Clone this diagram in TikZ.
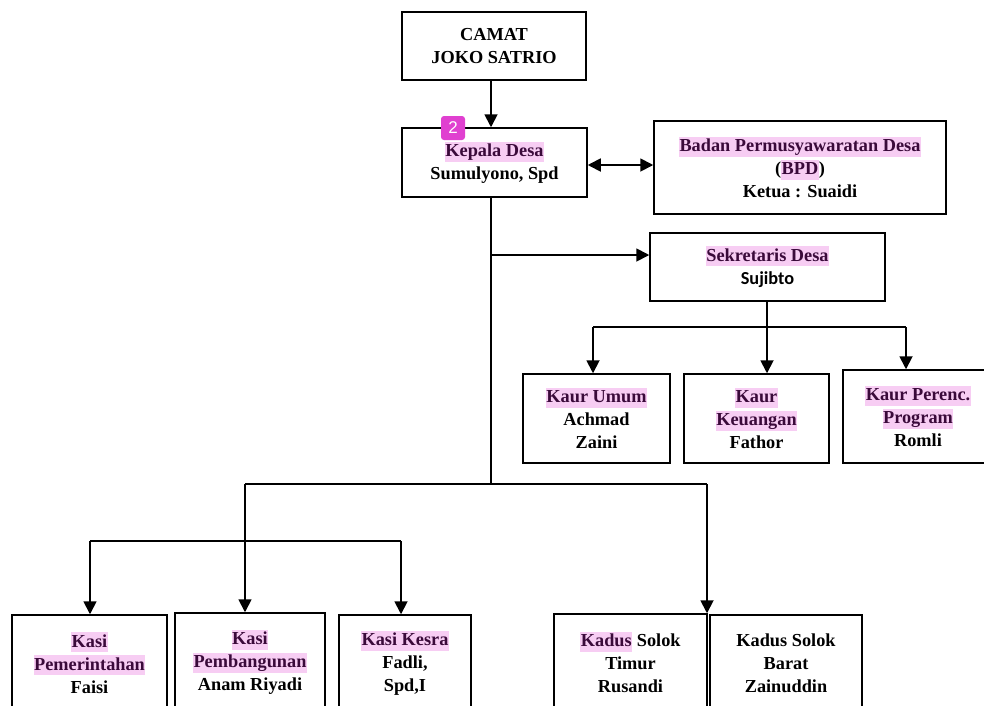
\documentclass[tikz,border=0pt]{standalone}
\usepackage{fontspec}
\setmainfont{Liberation Serif}
\newfontfamily\carlito{Carlito}
\newfontfamily\badgefont{Liberation Sans}
\usetikzlibrary{arrows.meta}
\definecolor{hlpink}{HTML}{F7CDF3}
\definecolor{hltext}{HTML}{3A0A3A}
\definecolor{badgecol}{HTML}{E040D0}
\newcommand{\hlw}[1]{{\setlength{\fboxsep}{0.5pt}\colorbox{hlpink}{\textcolor{hltext}{\rule[-4.5pt]{0pt}{19pt}#1}}}}
\tikzset{
  orgbox/.style={draw, line width=1.5pt, align=center, inner sep=0pt,
    font=\fontsize{18.3}{23}\selectfont\bfseries},
  link/.style={line width=1.8pt},
  arr/.style={line width=1.8pt, -{Triangle[length=13pt,width=13pt]}},
  darr/.style={line width=1.8pt, {Triangle[length=13pt,width=13pt]}-{Triangle[length=13pt,width=13pt]}},
  badge/.style={fill=badgecol, rounded corners=3pt, minimum width=24pt, minimum height=24pt,
    inner sep=0pt, text=white, font=\badgefont\fontsize{17}{17}\selectfont}
}
\begin{document}
\begin{tikzpicture}[x=1pt,y=-1pt]
\clip (0,0) rectangle (984,705);
\fill[white] (0,0) rectangle (984,705);
% boxes
\node[orgbox, minimum width=184pt, minimum height=68pt] (camat) at (494,46) {CAMAT\\JOKO SATRIO};
\node[orgbox, minimum width=185pt, minimum height=69pt] (kepala) at (494.5,162.5) {\hlw{Kepala Desa}\\Sumulyono, Spd};
\node[orgbox, minimum width=292pt, minimum height=93pt] (bpd) at (800,167.5) {\hlw{Badan Permusyawaratan Desa}\\(\hlw{BPD})\\Ketua : Suaidi};
\node[orgbox, minimum width=235pt, minimum height=68pt] (sek) at (767.5,267) {\hlw{Sekretaris Desa}\\{\carlito Sujibto}};
\node[orgbox, minimum width=147pt, minimum height=89pt] (umum) at (596.5,418.5) {\hlw{Kaur Umum}\\Achmad\\Zaini};
\node[orgbox, minimum width=145pt, minimum height=89pt] (keu) at (756.5,418.5) {\hlw{Kaur}\\\hlw{Keuangan}\\Fathor};
\node[orgbox, minimum width=150pt, minimum height=93pt] (per) at (918,416.5) {\hlw{Kaur Perenc.}\\\hlw{Program}\\Romli};
\node[orgbox, minimum width=155pt, minimum height=96pt] (pem) at (89.5,663) {\hlw{Kasi}\\\hlw{Pemerintahan}\\Faisi};
\node[orgbox, minimum width=150pt, minimum height=98pt] (pbg) at (250,662) {\hlw{Kasi}\\\hlw{Pembangunan}\\Anam Riyadi};
\node[orgbox, minimum width=132pt, minimum height=96pt] (kesra) at (405,663) {\hlw{Kasi Kesra}\\Fadli,\\Spd,I};
\node[orgbox, minimum width=153pt, minimum height=97pt] (timur) at (630.5,662.5) {\hlw{Kadus} Solok\\Timur\\Rusandi};
\node[orgbox, minimum width=152pt, minimum height=96pt] (barat) at (786,663) {Kadus Solok\\Barat\\Zainuddin};
% junction coordinates
\coordinate (j1) at (491,255);
\coordinate (j2) at (491,484);
\coordinate (kL) at (245,484);
\coordinate (kR) at (707,484);
\coordinate (sa) at (90,541);
\coordinate (sm) at (245,541);
\coordinate (sb) at (401,541);
\coordinate (u0) at (767,327);
\coordinate (ua) at (593,327);
\coordinate (uc) at (906,327);
\coordinate (dy) at (0,165);
% connectors
\draw[arr] (camat.south -| j1) -- (kepala.north -| j1);
\draw[darr] (kepala.east |- dy) -- (bpd.west |- dy);
\draw[link] (kepala.south -| j1) -- (j2);
\draw[arr] (j1) -- (j1 -| sek.west);
\draw[link] (sek.south -| u0) -- (u0);
\draw[link] (ua) -- (uc);
\draw[arr] (ua) -- (ua |- umum.north);
\draw[arr] (u0) -- (u0 |- keu.north);
\draw[arr] (uc) -- (uc |- per.north);
\draw[link] (kL) -- (kR);
\draw[arr] (kR) -- (kR |- timur.north);
\draw[link] (kL) -- (sm);
\draw[link] (sa) -- (sb);
\draw[arr] (sa) -- (sa |- pem.north);
\draw[arr] (sm) -- (sm |- pbg.north);
\draw[arr] (sb) -- (sb |- kesra.north);
% badge
\node[badge] (badge) at (453,128) {2};
\end{tikzpicture}
\end{document}
